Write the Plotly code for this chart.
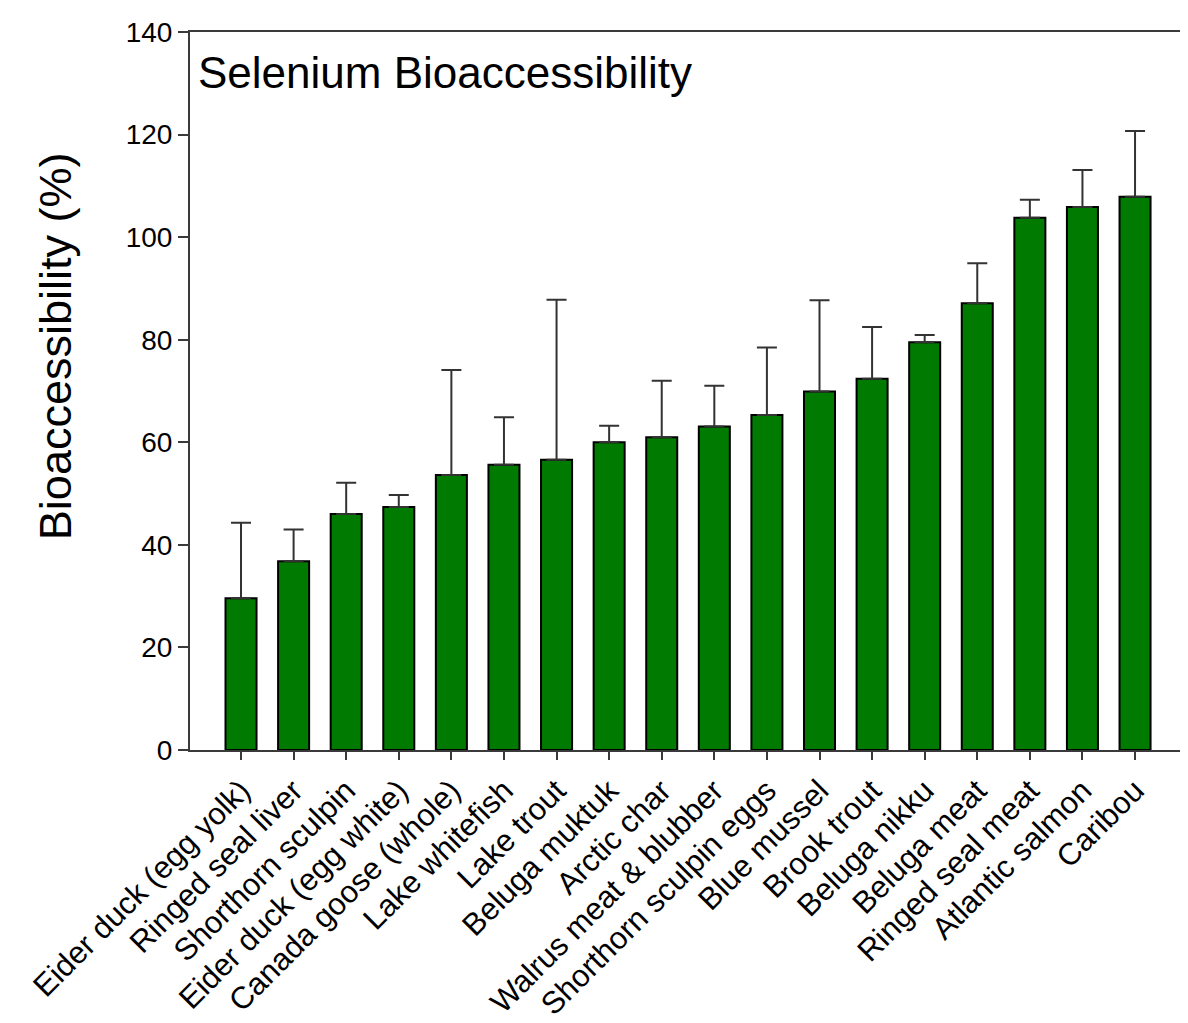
import plotly.graph_objects as go

categories = [
    "Eider duck (egg yolk)", "Ringed seal liver", "Shorthorn sculpin",
    "Eider duck (egg white)", "Canada goose (whole)", "Lake whitefish",
    "Lake trout", "Beluga muktuk", "Arctic char", "Walrus meat & blubber",
    "Shorthorn sculpin eggs", "Blue mussel", "Brook trout", "Beluga nikku",
    "Beluga meat", "Ringed seal meat", "Atlantic salmon", "Caribou",
]
means = [29.6, 36.8, 46.0, 47.4, 53.6, 55.6, 56.6, 60.0, 61.0, 63.1,
         65.3, 69.9, 72.4, 79.5, 87.1, 103.8, 105.9, 107.9]
upper = [44.3, 43.0, 52.1, 49.7, 74.1, 64.9, 87.8, 63.2, 72.0, 71.0,
         78.5, 87.7, 82.5, 80.9, 94.9, 107.3, 113.1, 120.7]
errors = [round(u - m, 2) for u, m in zip(upper, means)]
y_ticks = [0, 20, 40, 60, 80, 100, 120, 140]

FONT = "Liberation Sans, Arial, sans-serif"
AXC = "#3a3a3a"

fig = go.Figure(go.Bar(
    x=list(range(len(categories))),
    y=means,
    width=0.59,
    marker=dict(color="#007a00", line=dict(color="#000000", width=2)),
    error_y=dict(type="data", array=errors, arrayminus=[0] * len(errors),
                 symmetric=False, color="#333333", thickness=2, width=10),
))

fig.update_layout(
    width=1188, height=1023,
    margin=dict(l=182, r=9, t=22, b=280),
    paper_bgcolor="white", plot_bgcolor="white",
    showlegend=False,
    font=dict(family=FONT, color="#000000"),
    xaxis=dict(
        range=[-0.97, 17.95],
        tickmode="array", tickvals=list(range(len(categories))), ticktext=categories,
        tickangle=-45, tickfont=dict(size=31, family=FONT),
        ticks="outside", ticklen=8, tickwidth=2, tickcolor=AXC,
        showline=True, linecolor=AXC, linewidth=2, mirror=True,
        showgrid=False, zeroline=False,
    ),
    yaxis=dict(
        range=[0, 140],
        tickmode="array", tickvals=y_ticks,
        tickfont=dict(size=28, family=FONT),
        ticks="outside", ticklen=10, tickwidth=2, tickcolor=AXC,
        showline=True, linecolor=AXC, linewidth=2, mirror=True,
        showgrid=False, zeroline=False,
    ),
    annotations=[
        dict(text="Selenium Bioaccessibility", xref="paper", yref="paper",
             x=0.006, y=0.944, xanchor="left", yanchor="middle",
             showarrow=False, font=dict(size=44, family=FONT, color="#000000")),
        dict(text="Bioaccessibility (%)", xref="paper", yref="paper",
             x=-0.135, y=0.562, xanchor="center", yanchor="middle", textangle=-90,
             showarrow=False, font=dict(size=45, family=FONT, color="#000000")),
    ],
)

fig.write_html("out.html")
